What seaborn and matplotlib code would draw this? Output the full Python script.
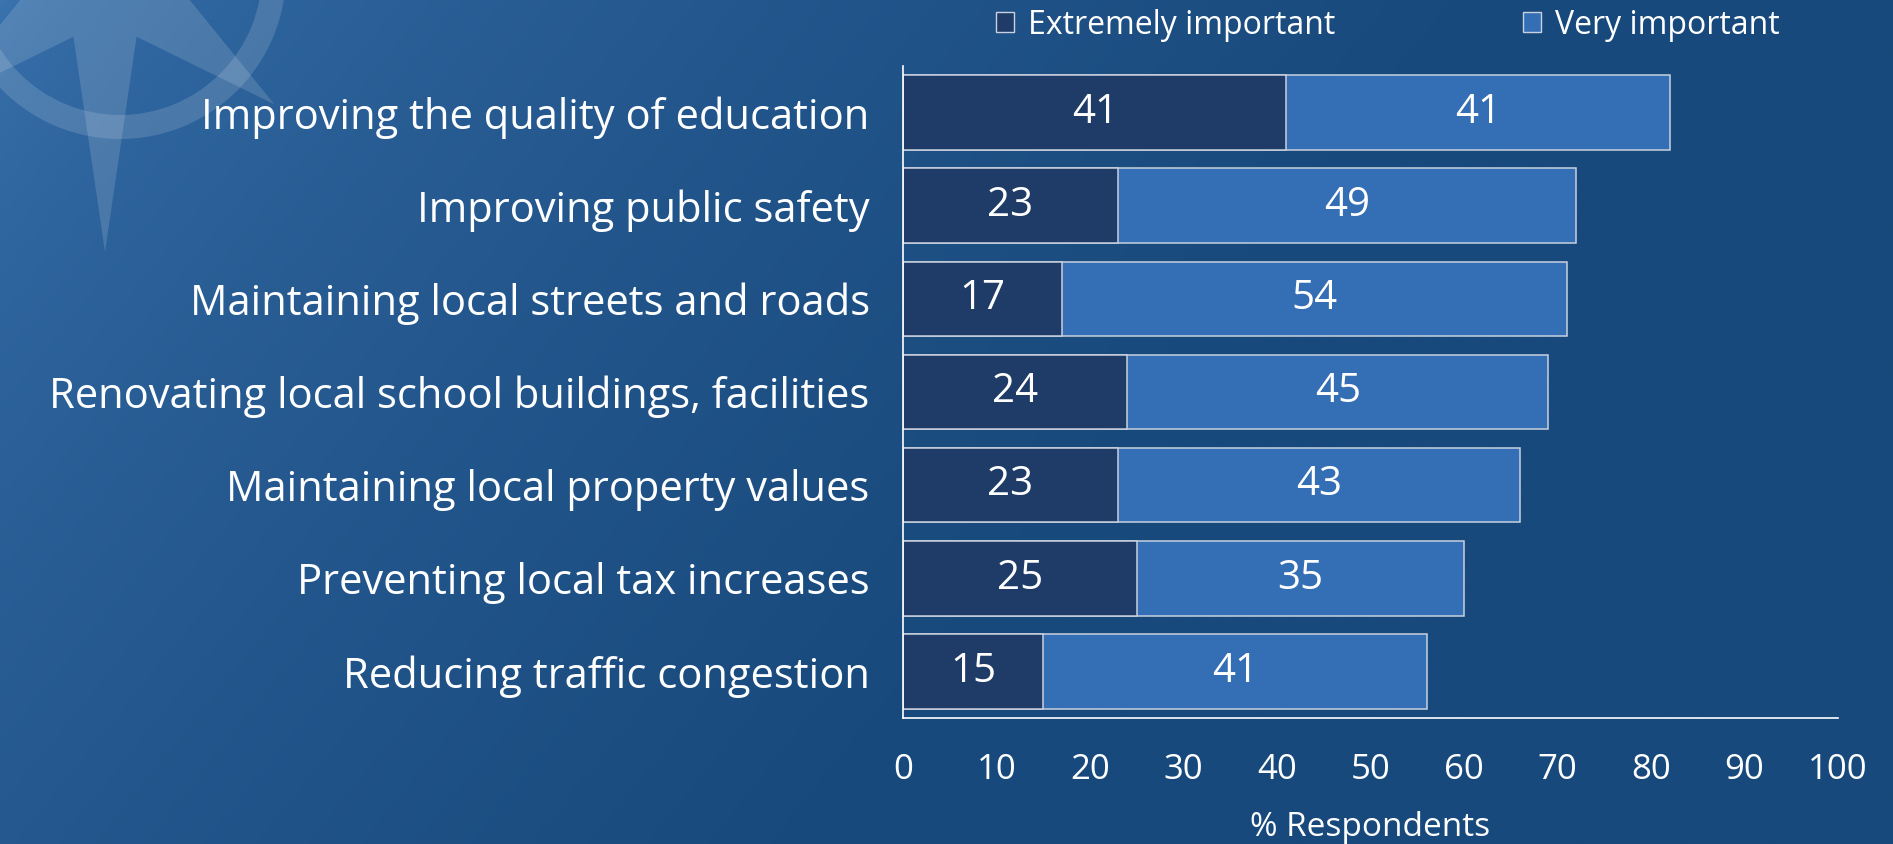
import numpy as np
import pandas as pd
import matplotlib
matplotlib.use("Agg")
import matplotlib.pyplot as plt
from matplotlib.patches import Patch, Polygon, Wedge
import seaborn as sns

# ---- data ----
categories = [
    "Improving the quality of education",
    "Improving public safety",
    "Maintaining local streets and roads",
    "Renovating local school buildings, facilities",
    "Maintaining local property values",
    "Preventing local tax increases",
    "Reducing traffic congestion",
]
extremely = [41, 23, 17, 24, 23, 25, 15]
very = [41, 49, 54, 45, 43, 35, 41]
series_names = ["Extremely important", "Very important"]
xticks = [0, 10, 20, 30, 40, 50, 60, 70, 80, 90, 100]
xlabel = "% Respondents"

# ---- style ----
W, H = 1893, 844
DPI = 100
sns.set_theme(style="white")
plt.rcParams["font.family"] = ["Open Sans", "DejaVu Sans"]

dark_col = "#1e3c67"
light_col = "#346eb4"
edge_col = "#c9d1de"
white = "#ffffff"

df = pd.DataFrame({"category": categories, "extremely": extremely, "very": very})
df["total"] = df["extremely"] + df["very"]

fig = plt.figure(figsize=(W / DPI, H / DPI), dpi=DPI)

# background gradient + faint logo
bg = fig.add_axes([0, 0, 1, 1], zorder=-10)
xx, yy = np.meshgrid(np.linspace(0, 1, 400), np.linspace(0, 1, 200))
t = np.clip(1.25 * xx + 0.45 * yy, 0, 1) ** 0.55
c0 = np.array([0x3b, 0x74, 0xb0]) / 255.0
c1 = np.array([0x18, 0x49, 0x7c]) / 255.0
img = c0[None, None, :] * (1 - t[..., None]) + c1[None, None, :] * t[..., None]
bg.imshow(img, extent=[0, W, H, 0], aspect="auto", interpolation="bilinear")
bg.set_xlim(0, W)
bg.set_ylim(H, 0)
bg.axis("off")
logo_col = (1, 1, 1, 0.14)
bg.add_patch(Wedge((120, -27), 166, 0, 360, width=24, facecolor=logo_col, edgecolor="none"))
cx, cy = 105, -28
tips = sorted([(90, 280), (38, 215), (-20, 200), (-90, 220), (-160, 200), (142, 215)])
star = []
for i, (ang, r) in enumerate(tips):
    a = np.deg2rad(ang)
    star.append((cx + r * np.cos(a), cy + r * np.sin(a)))
    nxt = tips[(i + 1) % len(tips)][0]
    if nxt <= ang:
        nxt += 360
    mid = np.deg2rad((ang + nxt) / 2)
    star.append((cx + 72 * np.cos(mid), cy + 72 * np.sin(mid)))
bg.add_patch(Polygon(star, closed=True, facecolor=logo_col, edgecolor="none"))

# main axes
left, right, top, bottom = 903, 1838, 66, 718
ax = fig.add_axes([left / W, 1 - bottom / H, (right - left) / W, (bottom - top) / H])
ax.patch.set_alpha(0)

sns.barplot(data=df, x="total", y="category", orient="h", color=light_col,
            edgecolor=edge_col, linewidth=1.1, saturation=1, ax=ax, width=0.8)
sns.barplot(data=df, x="extremely", y="category", orient="h", color=dark_col,
            edgecolor=edge_col, linewidth=1.1, saturation=1, ax=ax, width=0.8)

for i, (e, v) in enumerate(zip(extremely, very)):
    ax.text(e / 2, i, str(e), color=white, ha="center", va="center", fontsize=29)
    ax.text(e + v / 2, i, str(v), color=white, ha="center", va="center", fontsize=29)

ax.set_xlim(0, 100)
ax.set_ylim(6.5, -0.5)
ax.set_xticks(xticks)
ax.set_xticklabels([str(x) for x in xticks])
ax.tick_params(axis="x", length=0, pad=25, labelsize=25, labelcolor=white)
ax.tick_params(axis="y", length=0, pad=24, labelsize=30, labelcolor=white)
ax.set_ylabel("")
ax.set_xlabel(xlabel, color=white, fontsize=24)
ax.xaxis.set_label_coords(0.5, -(828 - bottom) / (bottom - top))
ax.xaxis.label.set_va("center")
for s in ["top", "right"]:
    ax.spines[s].set_visible(False)
for s in ["left", "bottom"]:
    ax.spines[s].set_color(white)
    ax.spines[s].set_linewidth(1.2)

# legend (two entries, placed separately)
handles = [Patch(facecolor=dark_col, edgecolor=edge_col, linewidth=1.0),
           Patch(facecolor=light_col, edgecolor=edge_col, linewidth=1.0)]
for h, name, xpos in zip(handles, series_names, [996, 1523]):
    leg = fig.legend([h], [name], loc="center left", bbox_to_anchor=(xpos / W, 1 - 25 / H),
                     frameon=False, fontsize=23, handlelength=0.55, handleheight=0.6,
                     handletextpad=0.45, borderpad=0, borderaxespad=0)
    for txt in leg.get_texts():
        txt.set_color(white)

fig.savefig("out.png", dpi=DPI)
